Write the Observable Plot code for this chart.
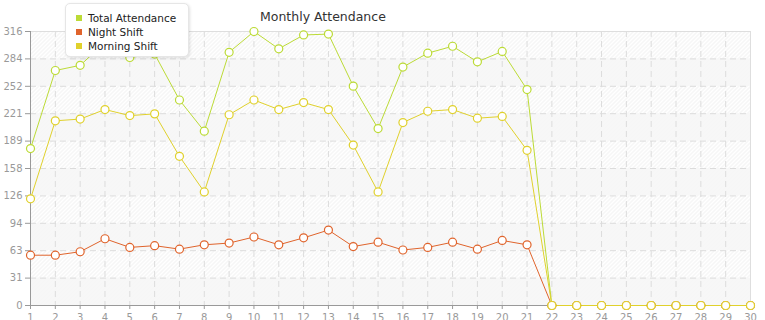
<!DOCTYPE html>
<html>
<head>
<meta charset="utf-8">
<script src="https://cdn.jsdelivr.net/npm/d3@7"></script>
<script src="https://cdn.jsdelivr.net/npm/@observablehq/plot@0.6"></script>
<style>
  html, body { margin: 0; padding: 0; background: #fff; }
  #wrap { position: relative; width: 765px; height: 320px; overflow: hidden; font-family: "DejaVu Sans", sans-serif; }
  #title { position: absolute; left: 260px; top: 9px; font-size: 12.5px; color: #333; white-space: nowrap; }
  #legend { position: absolute; left: 65px; top: 3px; width: 122px; height: 52px; background: #fff;
            border: 1px solid #e6e6e6; border-radius: 5px; box-shadow: 1px 1px 3px rgba(0,0,0,0.12); }
  .li { position: absolute; left: 10px; font-size: 10.5px; color: #222; white-space: nowrap; line-height: 12px; }
  .li span { display: inline-block; width: 6px; height: 6px; margin-right: 6px; vertical-align: 1px; }
</style>
</head>
<body>
<div id="wrap">
  <div id="chart"></div>
  <div id="title">Monthly Attendance</div>
  <div id="legend"></div>
</div>
<script>
const days = d3.range(1, 31);
const seriesNames = ["Total Attendance", "Night Shift", "Morning Shift"];
const seriesColors = ["#bcdb36", "#e0642c", "#e0d12c"];
const totalAttendance = [181, 271, 277, 303, 286, 290, 237, 201, 292, 316, 296, 312, 313, 253, 204, 275, 291, 299, 281, 293, 249, 0, 0, 0, 0, 0, 0, 0, 0, 0];
const nightShift      = [58, 58, 62, 77, 67, 69, 65, 70, 72, 79, 70, 78, 87, 68, 73, 64, 67, 73, 65, 75, 70, 0, 0, 0, 0, 0, 0, 0, 0, 0];
const morningShift    = [123, 213, 215, 226, 219, 221, 172, 131, 220, 237, 226, 234, 226, 185, 131, 211, 224, 226, 216, 218, 179, 0, 0, 0, 0, 0, 0, 0, 0, 0];
const yTicks = [0, 31.6, 63.2, 94.8, 126.4, 158, 189.6, 221.2, 252.8, 284.4, 316];
const yTickLabels = ["0", "31", "63", "94", "126", "158", "189", "221", "252", "284", "316"];

const seriesValues = [totalAttendance, nightShift, morningShift];
const rows = seriesNames.flatMap((name, s) => days.map((d, i) => ({series: name, day: d, value: seriesValues[s][i]})));
const bands = yTicks.slice(0, -1).map((lo, k) => ({lo, hi: yTicks[k + 1], k})).filter(b => b.k % 2 === 0);

const plot = Plot.plot({
  width: 765,
  height: 320,
  marginLeft: 30,
  marginRight: 15,
  marginTop: 31,
  marginBottom: 15,
  style: {fontFamily: "DejaVu Sans, sans-serif", fontSize: "10px", background: "#fff"},
  x: {domain: [1, 30], ticks: days},
  y: {domain: [0, 316]},
  color: {domain: seriesNames, range: seriesColors},
  marks: [
    Plot.frame({fill: "#fff", stroke: null}),
    Plot.rect(bands, {y1: "lo", y2: "hi", fill: "#f6f6f6", fillOpacity: 0.9}),
    Plot.gridX(days, {stroke: "#dcdcdc", strokeOpacity: 1, strokeDasharray: "6,4"}),
    Plot.gridY(yTicks, {stroke: "#dcdcdc", strokeOpacity: 1, strokeDasharray: "6,4"}),
    Plot.ruleY([316], {stroke: "#dedede"}),
    Plot.ruleX([30], {stroke: "#dedede"}),
    Plot.axisY({ticks: yTicks, tickFormat: (d) => yTickLabels[yTicks.indexOf(d)], tickSize: 5, tickPadding: 3, stroke: "#999", fill: "#999", label: null}),
    Plot.axisX({ticks: days, tickFormat: d => String(d), tickSize: 4, tickPadding: 4, stroke: "#999", fill: "#999", label: null}),
    Plot.ruleX([1], {stroke: "#999"}),
    Plot.ruleY([0], {stroke: "#999"}),
    Plot.line(rows, {x: "day", y: "value", z: "series", stroke: "series", strokeWidth: 1}),
    Plot.dot(rows, {x: "day", y: "value", stroke: "series", fill: "#fff", r: 4, strokeWidth: 1.2})
  ]
});

document.getElementById("chart").appendChild(plot);

// hatch pattern on the plot frame
const svg = d3.select(plot);
const defs = svg.insert("defs", ":first-child");
const pat = defs.append("pattern").attr("id", "hatch").attr("patternUnits", "userSpaceOnUse")
  .attr("width", 4).attr("height", 4);
pat.append("rect").attr("width", 4).attr("height", 4).attr("fill", "#fff");
pat.append("path").attr("d", "M-1,1 l2,-2 M0,4 l4,-4 M3,5 l2,-2").attr("stroke", "#ececec").attr("stroke-width", 1);
svg.select('[aria-label="frame"]').attr("fill", "url(#hatch)").selectAll("rect").attr("fill", "url(#hatch)");

// legend
const legend = d3.select("#legend");
seriesNames.forEach((name, i) => {
  const item = legend.append("div").attr("class", "li").style("top", (8 + i * 14) + "px");
  item.append("span").style("background", seriesColors[i]);
  item.append("text").text(name);
});
</script>
</body>
</html>
